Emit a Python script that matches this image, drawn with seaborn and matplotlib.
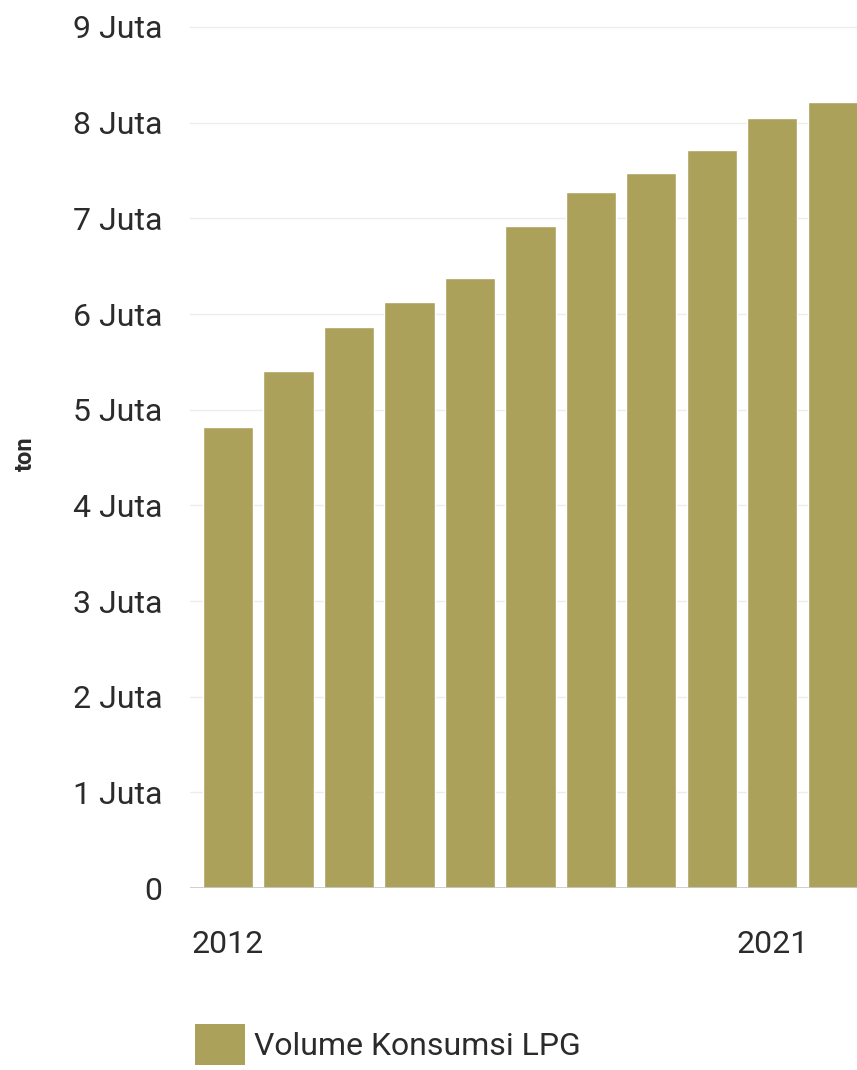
import matplotlib
matplotlib.use("Agg")
import matplotlib.pyplot as plt
from matplotlib.patches import Patch
from matplotlib.ticker import FuncFormatter
import seaborn as sns
import pandas as pd

# LPG consumption volume per year (million tonnes)
years = [2012, 2013, 2014, 2015, 2016, 2017, 2018, 2019, 2020, 2021, 2022]
volume_juta = [4.82, 5.40, 5.86, 6.13, 6.38, 6.92, 7.28, 7.47, 7.71, 8.05, 8.22]
shown_year_labels = ["2012", "2021"]
series_name = "Volume Konsumsi LPG"
unit_label = "ton"

bar_color = "#ACA15B"
text_color = "#2b2b2b"

sns.set_theme(style="white")
plt.rcParams["font.family"] = ["Roboto", "DejaVu Sans"]

df = pd.DataFrame({"tahun": [str(y) for y in years], "volume": volume_juta})

fig = plt.figure(figsize=(8.57, 10.70), dpi=100)
ax = fig.add_axes([0.2217, 0.170, 0.7783, 0.8066])

sns.barplot(data=df, x="tahun", y="volume", color=bar_color, saturation=1,
            width=0.83, ax=ax, zorder=3)

ax.set_ylim(0, 9.02)
ax.set_xlim(-0.63, 10.40)
ax.set_yticks(range(0, 10))
ax.yaxis.set_major_formatter(FuncFormatter(lambda v, p: "0" if v == 0 else f"{int(v)} Juta"))
ax.set_xticks([years.index(int(s)) for s in shown_year_labels])
ax.set_xticklabels(shown_year_labels)

ax.grid(axis="y", color="#ececec", linewidth=1.0, zorder=0)
ax.grid(axis="x", visible=False)
ax.axhline(0, color="#c8c8c8", linewidth=1.2, zorder=4)
for s in ax.spines.values():
    s.set_visible(False)

ax.tick_params(axis="y", length=0, pad=20, labelsize=23, labelcolor=text_color)
ax.tick_params(axis="x", length=0, pad=30, labelsize=23, labelcolor=text_color)
ax.set_xlabel("")
ax.set_ylabel("")

# unit label on the far left, rotated
fig.text(25 / 857, 1 - 454 / 1070, unit_label, rotation=90, ha="center", va="center",
         fontsize=17, fontweight="bold", color=text_color)

handle = Patch(facecolor=bar_color, edgecolor="none")
fig.legend([handle], [series_name], loc="lower left",
           bbox_to_anchor=(195 / 857, 5 / 1070), frameon=False, fontsize=23,
           handlelength=1.56, handleheight=1.6, handletextpad=0.3,
           borderpad=0, labelcolor=text_color, borderaxespad=0)

fig.savefig("out.png", dpi=100, facecolor="white")
